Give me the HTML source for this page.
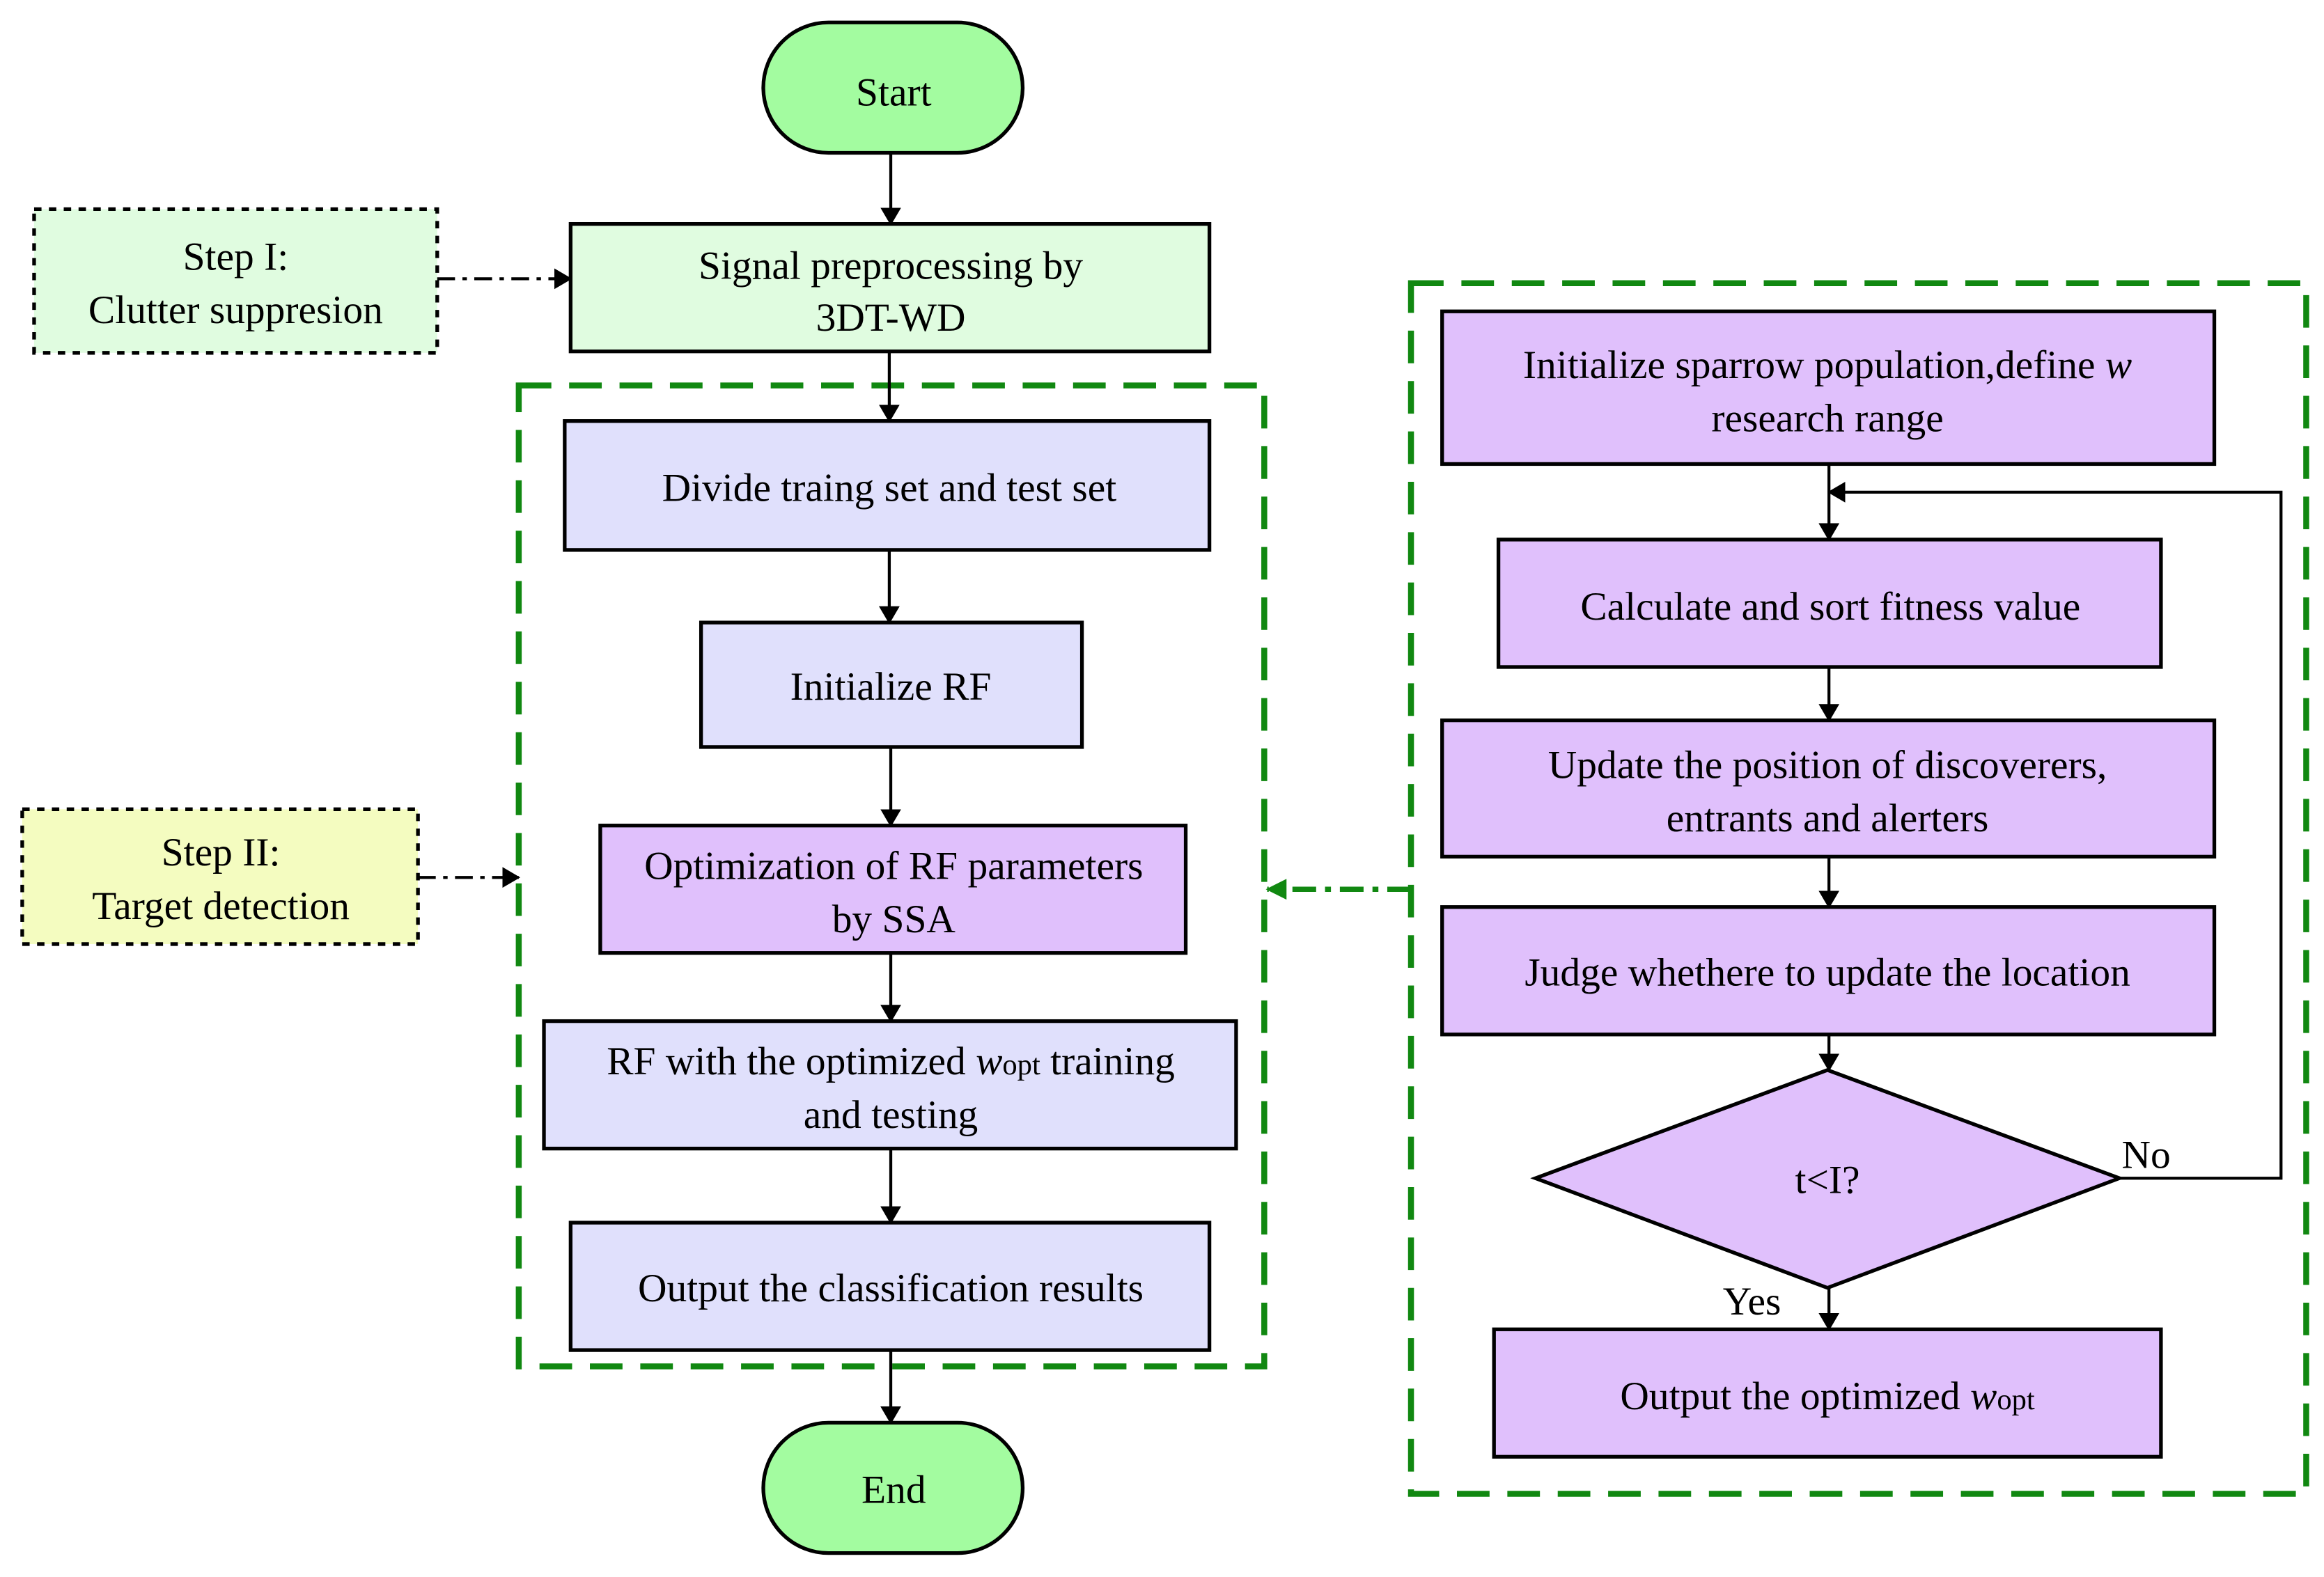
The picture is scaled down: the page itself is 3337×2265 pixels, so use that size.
<!DOCTYPE html>
<html><head><style>html,body{margin:0;padding:0;background:#fff}svg{display:block}</style></head><body>
<svg width="3337" height="2265" viewBox="0 0 1568 1064" xmlns="http://www.w3.org/2000/svg" style="font-family:'Liberation Serif',serif" font-size="27" text-anchor="middle">
<defs><marker id="a" markerWidth="12" markerHeight="14" refX="11" refY="7" orient="auto" markerUnits="userSpaceOnUse"><path d="M0,0 L12,7 L0,14 z" fill="#000"/></marker>
<marker id="g" markerWidth="14" markerHeight="14" refX="13" refY="7" orient="auto" markerUnits="userSpaceOnUse"><path d="M0,0 L14,7 L0,14 z" fill="#118811"/></marker></defs>
<g stroke="#118811" stroke-width="4" stroke-dasharray="22,12" fill="none">
<rect x="350" y="260" width="503" height="662"/>
<rect x="952" y="191" width="604" height="817"/>
</g>
<g stroke="#000" stroke-width="2.5">
<rect x="515" y="15" width="175" height="88" rx="44" fill="#a3fca0"/>
<rect x="385" y="151" width="431" height="86" fill="#e0fce0"/>
<rect x="381" y="284" width="435" height="87" fill="#e0e0fc"/>
<rect x="473" y="420" width="257" height="84" fill="#e0e0fc"/>
<rect x="405" y="557" width="395" height="86" fill="#e0c0fc"/>
<rect x="367" y="689" width="467" height="86" fill="#e0e0fc"/>
<rect x="385" y="825" width="431" height="86" fill="#e0e0fc"/>
<rect x="515" y="960" width="175" height="88" rx="44" fill="#a3fca0"/>
<rect x="973" y="210" width="521" height="103" fill="#e0c0fc"/>
<rect x="1011" y="364" width="447" height="86" fill="#e0c0fc"/>
<rect x="973" y="486" width="521" height="92" fill="#e0c0fc"/>
<rect x="973" y="612" width="521" height="86" fill="#e0c0fc"/>
<path d="M1233,722 L1430,795 L1233,869 L1036,795 z" fill="#e0c0fc"/>
<rect x="1008" y="897" width="450" height="86" fill="#e0c0fc"/>
</g>
<g stroke="#000" stroke-width="2.5" stroke-dasharray="5,5">
<rect x="23" y="141" width="272" height="97" fill="#e0fce0"/>
<rect x="15" y="546" width="267" height="91" fill="#f4fcc0"/>
</g>
<g stroke="#000" stroke-width="2" fill="none" marker-end="url(#a)">
<line x1="601" y1="103" x2="601" y2="151"/>
<line x1="600" y1="237" x2="600" y2="284"/>
<line x1="600" y1="371" x2="600" y2="420"/>
<line x1="601" y1="504" x2="601" y2="557"/>
<line x1="601" y1="643" x2="601" y2="689"/>
<line x1="601" y1="775" x2="601" y2="825"/>
<line x1="601" y1="911" x2="601" y2="960"/>
<line x1="1234" y1="313" x2="1234" y2="364"/>
<line x1="1234" y1="450" x2="1234" y2="486"/>
<line x1="1234" y1="578" x2="1234" y2="612"/>
<line x1="1234" y1="698" x2="1234" y2="722"/>
<line x1="1234" y1="869" x2="1234" y2="897"/>
<polyline points="1430,795 1539,795 1539,332 1234,332"/>
<line x1="295" y1="188" x2="385" y2="188" stroke-dasharray="12,5,3,5"/>
<line x1="282" y1="592" x2="350" y2="592" stroke-dasharray="12,5,3,5"/>
</g>
<line x1="952" y1="600" x2="855" y2="600" stroke="#118811" stroke-width="3.5" stroke-dasharray="16,6,4,6" marker-end="url(#g)"/>
<g fill="#000">
<text x="603" y="71">Start</text>
<text x="601" y="188">Signal  preprocessing by</text><text x="601" y="223">3DT-WD</text>
<text x="600" y="338">Divide traing set and test set</text>
<text x="601" y="472">Initialize RF</text>
<text x="603" y="593">Optimization of RF parameters</text><text x="603" y="629">by SSA</text>
<text x="601" y="725">RF with the optimized <tspan font-style="italic">w</tspan><tspan font-size="20">opt</tspan> training</text><text x="601" y="761">and testing</text>
<text x="601" y="878">Output the classification results</text>
<text x="603" y="1014">End</text>
<text x="159" y="182">Step I:</text><text x="159" y="218">Clutter suppresion</text>
<text x="149" y="584">Step II:</text><text x="149" y="620">Target detection</text>
<text x="1233" y="255">Initialize sparrow population,define <tspan font-style="italic">w</tspan></text><text x="1233" y="291">research range</text>
<text x="1235" y="418">Calculate and sort fitness value</text>
<text x="1233" y="525">Update the position of discoverers,</text><text x="1233" y="561">entrants and alerters</text>
<text x="1233" y="665">Judge whethere to update the location</text>
<text x="1233" y="805">t&lt;I?</text>
<text x="1448" y="788">No</text>
<text x="1182" y="887">Yes</text>
<text x="1233" y="951">Output the optimized <tspan font-style="italic">w</tspan><tspan font-size="20">opt</tspan></text>
</g>
</svg>
</body></html>
